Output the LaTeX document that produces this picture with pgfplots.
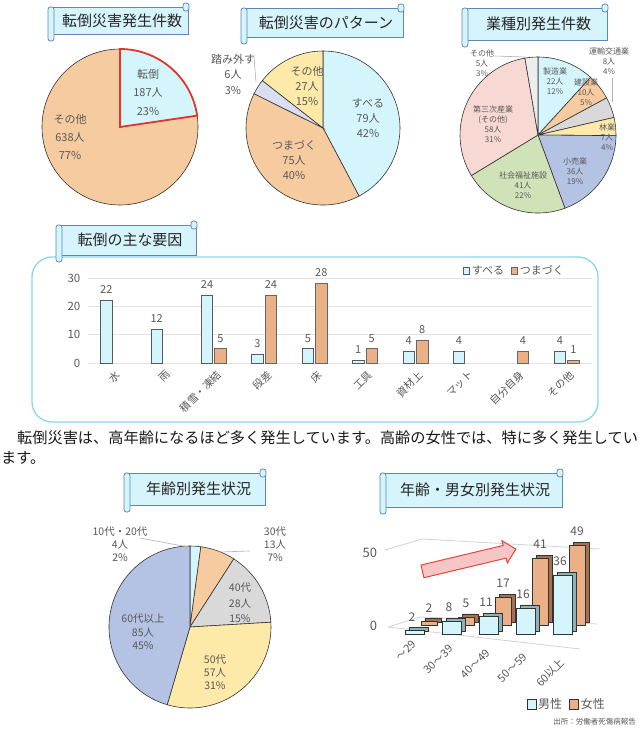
\documentclass[border=0pt]{standalone}
\usepackage{pgfplots}
\pgfplotsset{compat=1.18}
\usepackage{pgfplotstable}
\usepackage{fontspec}
\setmainfont{Noto Sans CJK JP}
\usetikzlibrary{shapes.arrows}

\definecolor{pcyan}{HTML}{D5F5FC}
\definecolor{ppeach}{HTML}{F7CBA0}
\definecolor{plav}{HTML}{D9DFF0}
\definecolor{pyellow}{HTML}{FDE9A8}
\definecolor{pgray}{HTML}{D9D9D9}
\definecolor{pblue}{HTML}{B4C2E4}
\definecolor{pgreen}{HTML}{D0E3B8}
\definecolor{ppink}{HTML}{F7D8D2}
\definecolor{plgray}{HTML}{EDEDED}
\definecolor{lblgray}{HTML}{595959}
\definecolor{bannerfill}{HTML}{D6F4FB}
\definecolor{bannerline}{HTML}{5E86B6}
\definecolor{panelline}{HTML}{8AD6F2}
\definecolor{barcyan}{HTML}{D4F5FC}
\definecolor{barorange}{HTML}{EAB088}
\definecolor{hlred}{HTML}{E0362C}
\definecolor{arrowfill}{HTML}{F6C6C6}
\definecolor{arrowline}{HTML}{E2473D}
\definecolor{mside}{HTML}{8DB1B6}
\definecolor{fside}{HTML}{A86F4E}

\newcommand\fs[1]{\fontsize{#1pt}{#1pt}\selectfont}

% pie data: v = value, c = fill colour, s = outline style
\pgfplotstableread{
v c s
638 ppeach wedge
187 pcyan hl
}\pieA
\pgfplotstableread{
v c s
79 pcyan wedge
75 ppeach wedge
6 plav wedge
27 pyellow wedge
}\pieB
\pgfplotstableread{
v c s
22 pcyan wedge
10 ppeach wedge
8 pgray wedge
7 pyellow wedge
36 pblue wedge
41 pgreen wedge
58 ppink wedge
5 plgray wedge
}\pieC
\pgfplotstableread{
v c s
4 pcyan wedge
13 ppeach wedge
28 pgray wedge
57 pyellow wedge
85 pblue wedge
}\pieD

\tikzset{
  wedge/.style={draw=black!80, line width=0.6pt},
  hl/.style={draw=hlred, line width=1.8pt},
}
\pgfplotsset{
  pieaxis/.style={hide axis, x=1pt, y=1pt, xmin=-100, xmax=100, ymin=-100, ymax=100,
    anchor=center, clip=false, enlargelimits=false},
}

% #1 table, #2 radius, #3 start angle, #4 direction (+1 ccw, -1 cw)
\newcommand\piechart[4]{%
  \pgfplotstablegetrowsof{#1}%
  \pgfmathtruncatemacro\pielast{\pgfplotsretval-1}%
  \def\pietotal{0}%
  \pgfplotsforeachungrouped \pierow in {0,...,\pielast}{%
    \pgfplotstablegetelem{\pierow}{v}\of{#1}%
    \pgfmathsetmacro\pietotal{\pietotal+\pgfplotsretval}%
  }%
  \def\pieang{#3}%
  \pgfplotsforeachungrouped \pierow in {0,...,\pielast}{%
    \pgfplotstablegetelem{\pierow}{v}\of{#1}\let\pieval\pgfplotsretval
    \pgfplotstablegetelem{\pierow}{c}\of{#1}\let\piecol\pgfplotsretval
    \pgfplotstablegetelem{\pierow}{s}\of{#1}\let\piesty\pgfplotsretval
    \pgfmathsetmacro\piefrac{\pieval/\pietotal}%
    \pgfmathsetmacro\pieend{\pieang+(#4)*360*\piefrac}%
    \edef\pietemp{\noexpand\filldraw[\piesty, fill=\piecol] (axis cs:0,0) -- (axis cs:{#2*cos(\pieang)},{#2*sin(\pieang)}) arc[start angle=\pieang, end angle=\pieend, radius=#2pt] -- cycle;}%
    \pietemp
    \let\pieang\pieend
  }%
}

\newcommand\banner[5]{%
  \draw[bannerline, fill=bannerfill, line width=0.8pt] (#1,#2) rectangle (#3,#4);
  \draw[bannerline, fill=bannerfill, line width=0.8pt, rounded corners=2.5pt] ({#1-4},{#2}) rectangle ({#1+2},{#4+7});
  \draw[bannerline, fill=bannerfill, line width=0.8pt, rounded corners=2.5pt] ({#3-5},{#2-4}) rectangle ({#3+1},{#2+4});
  \node[font=\fs{15}, text=black!85, inner sep=0pt] at ({(#1+#3)/2+2},{(#2+#4)/2}) {#5};
}

\begin{document}
\begin{tikzpicture}
\useasboundingbox (0,0) rectangle (640pt,-729pt);
\fill[white] (0,0) rectangle (640pt,-729pt);

% background decorations
\begin{scope}[x=1pt,y=-1pt]
  \draw[panelline, line width=1.3pt, rounded corners=20pt] (32,257) rectangle (598,422);
  \draw[gray!35, line width=0.8pt] (388,627) -- (421,617) -- (598,624);
  \draw[gray!35, line width=0.8pt] (388,627) -- (580,649);
  \draw[gray!35, line width=0.8pt] (385,550) -- (422,539) -- (600,549);
\end{scope}

% ---- pies ----
\begin{axis}[pieaxis, at={(120pt,-127pt)}]
  \piechart{\pieA}{78}{90}{1}
\end{axis}
\begin{axis}[pieaxis, at={(323pt,-128pt)}]
  \piechart{\pieB}{77}{90}{-1}
\end{axis}
\begin{axis}[pieaxis, at={(538pt,-135pt)}]
  \piechart{\pieC}{78}{90}{-1}
\end{axis}
\begin{axis}[pieaxis, at={(190pt,-627pt)}]
  \piechart{\pieD}{81}{90}{-1}
\end{axis}

% ---- main causes bar chart ----
\begin{axis}[
  at={(87.8pt,-363pt)}, anchor=south west,
  x=50.4pt, y=2.833pt,
  xmin=-0.5, xmax=9.5, ymin=0, ymax=30,
  enlargelimits=false, clip=false,
  ybar=2pt, bar width=11.5pt,
  axis line style={draw=none},
  major tick length=0pt,
  ymajorgrids, grid style={gray!22, line width=0.8pt},
  ytick={0,10,20,30},
  xtick={0,...,9},
  xticklabels={水,雨,積雪・凍結,段差,床,工具,資材上,マット,自分自身,その他},
  xticklabel style={font=\fs{10.5}, text=lblgray, xshift=2pt, yshift=-5pt, rotate=45, anchor=north east, inner sep=1pt},
  yticklabel style={font=\fs{11.5}, text=lblgray, xshift=-4pt},
  /pgf/number format/assume math mode=true,
  nodes near coords,
  every node near coord/.append style={font=\fs{11}, text=lblgray, yshift=3pt},
  legend style={draw=none, fill=none, font=\fs{11}, text=lblgray, legend columns=-1,
    at={(0.955,1)}, anchor=east, yshift=7pt,
    /tikz/every even column/.append style={column sep=5pt}},
  legend image code/.code={\draw[#1] (0pt,-3.5pt) rectangle (6pt,3.5pt);},
]
\addplot[fill=barcyan, draw=gray!70!black, line width=0.7pt] coordinates {(0,22) (1,12) (2,24) (3,3) (4,5) (5,1) (6,4) (7,4) (9,4)};
\addplot[fill=barorange, draw=black!60, line width=0.7pt] coordinates {(2,5) (3,24) (4,28) (5,5) (6,8) (8,4) (9,1)};
\legend{すべる,つまづく}
\end{axis}

% ---- age x gender pseudo-3D bars ----
\begin{axis}[
  at={(396.5pt,-634pt)}, anchor=south west,
  x=37pt, y=1.63pt,
  xmin=-0.5, xmax=4.5, ymin=0, ymax=50,
  enlargelimits=false, clip=false,
  ybar,
  axis line style={draw=none},
  major tick length=0pt,
  xtick={0,...,4},
  xticklabels={～29,30～39,40～49,50～59,60以上},
  xticklabel style={font=\fs{11}, text=lblgray, xshift=-4pt, yshift={-(4+4.3*\ticknum)*1pt}, rotate=45, anchor=north east, inner sep=1pt},
  ytick={0,50},
  yticklabel style={font=\fs{13}, text=lblgray, xshift=-16pt, yshift={(1-\ticknum)*8pt}},
  /pgf/number format/assume math mode=true,
  every node near coord/.append style={font=\fs{12}, text=lblgray, yshift=6pt},
  legend style={draw=none, fill=none, font=\fs{12}, text=lblgray, legend columns=-1,
    at={(0.92,-0.86)}, anchor=center,
    /tikz/every even column/.append style={column sep=5pt}},
  legend image code/.code={\draw[#1] (0pt,-5pt) rectangle (9pt,5pt);},
]
% female (back row)
\addplot[forget plot, bar shift=0pt, bar width=16pt, fill=fside, draw=black!80, line width=0.6pt, xshift=18pt, yshift=12pt]
  coordinates {(0,2) (1,5) (2,17) (3,41) (4,49)};
\addplot[forget plot, bar shift=0pt, bar width=16pt, fill=barorange, draw=black!80, line width=0.6pt, xshift=14pt, yshift=9pt, nodes near coords]
  coordinates {(0,2) (1,5) (2,17) (3,41) (4,49)};
% male (front row)
\addplot[forget plot, bar shift=0pt, bar width=19pt, fill=mside, draw=black!80, line width=0.6pt, xshift=4pt, yshift=3pt]
  coordinates {(0,2) (1,8) (2,11) (3,16) (4,36)};
\addplot[forget plot, bar shift=0pt, bar width=19pt, fill=barcyan, draw=black!80, line width=0.6pt, nodes near coords,
  every node near coord/.append style={xshift=-3pt}]
  coordinates {(0,2) (1,8) (2,11) (3,16) (4,36)};
\addlegendimage{fill=barcyan, draw=black!80, line width=0.6pt}
\addlegendentry{男性}
\addlegendimage{fill=barorange, draw=black!80, line width=0.6pt}
\addlegendentry{女性}
\end{axis}

% ---- foreground: banners, labels, text ----
\begin{scope}[x=1pt,y=-1pt]
  \banner{52}{7}{188}{34}{転倒災害発生件数}
  \banner{245}{8}{403}{37}{転倒災害のパターン}
  \banner{466}{8}{607}{40}{業種別発生件数}
  \banner{60}{225}{196}{255}{転倒の主な要因}
  \banner{128}{473}{265}{505}{年齢別発生状況}
  \banner{384}{473}{562}{507}{年齢・男女別発生状況}

  % pie 1 labels
  \node[text=lblgray, font=\fontsize{11pt}{18.5pt}\selectfont, align=center, inner sep=0pt] at (148,92) {転倒\\187人\\23\%};
  \node[text=lblgray, font=\fontsize{11pt}{18pt}\selectfont, align=center, inner sep=0pt] at (70,137) {その他\\638人\\77\%};
  % pie 2 labels
  \node[text=lblgray, font=\fontsize{11pt}{15pt}\selectfont, align=center, inner sep=0pt] at (368,118) {すべる\\79人\\42\%};
  \node[text=lblgray, font=\fontsize{11pt}{15pt}\selectfont, align=center, inner sep=0pt] at (294,160) {つまづく\\75人\\40\%};
  \node[text=lblgray, font=\fontsize{11pt}{15pt}\selectfont, align=center, inner sep=0pt] at (307,86) {その他\\27人\\15\%};
  \node[text=lblgray, font=\fontsize{11pt}{15.5pt}\selectfont, align=center, inner sep=0pt] at (233,74) {踏み外す\\6人\\3\%};
  \draw[gray!60, line width=0.6pt] (251,57) -- (254,57) -- (256,82);
  % pie 3 labels
  \begin{scope}[every node/.style={text=lblgray, font=\fontsize{8pt}{10pt}\selectfont, align=center, inner sep=0pt}]
    \node at (555,81) {製造業\\22人\\12\%};
    \node at (586,92) {建設業\\10人\\5\%};
    \node at (609,61) {運輸交通業\\8人\\4\%};
    \node at (607,137) {林業\\7人\\4\%};
    \node at (575,171) {小売業\\36人\\19\%};
    \node at (523,185) {社会福祉施設\\41人\\22\%};
    \node at (493,124) {第三次産業\\(その他)\\58人\\31\%};
    \node at (482,63) {その他\\5人\\3\%};
  \end{scope}
  \draw[gray!60, line width=0.6pt] (495,56) -- (525,57);
  \draw[gray!60, line width=0.6pt] (612,78) -- (612,102);
  % pie 4 labels
  \node[text=lblgray, font=\fontsize{10.5pt}{13pt}\selectfont, align=center, inner sep=0pt] at (120,544) {10代・20代\\4人\\2\%};
  \node[text=lblgray, font=\fontsize{10.5pt}{13pt}\selectfont, align=center, inner sep=0pt] at (275,544) {30代\\13人\\7\%};
  \node[text=lblgray, font=\fontsize{10.5pt}{15.5pt}\selectfont, align=center, inner sep=0pt] at (240,603) {40代\\28人\\15\%};
  \node[text=lblgray, font=\fontsize{10.5pt}{13.5pt}\selectfont, align=center, inner sep=0pt] at (143,632) {60代以上\\85人\\45\%};
  \node[text=lblgray, font=\fontsize{10.5pt}{13pt}\selectfont, align=center, inner sep=0pt] at (215,672) {50代\\57人\\31\%};
  \draw[gray!60, line width=0.6pt] (140,538) -- (188,547);
  \draw[gray!60, line width=0.6pt] (250,551) -- (219,552);

  % red trend arrow
  \node[single arrow, draw=arrowline, fill=arrowfill, line width=1pt, minimum height=96pt,
        single arrow head extend=5pt, inner xsep=0pt, inner ysep=6pt, rotate=13.4] at (466,561) {};

  % body text
  \node[anchor=west, font=\fs{15.2}, text=black!90, inner sep=0pt] at (17,438) {転倒災害は、高年齢になるほど多く発生しています。高齢の女性では、特に多く発生してい};
  \node[anchor=west, font=\fs{15.2}, text=black!90, inner sep=0pt] at (1,458) {ます。};

  % source
  \node[anchor=east, font=\fs{7.5}, text=lblgray, inner sep=0pt] at (636,722) {出所：労働者死傷病報告};
\end{scope}
\end{tikzpicture}
\end{document}
